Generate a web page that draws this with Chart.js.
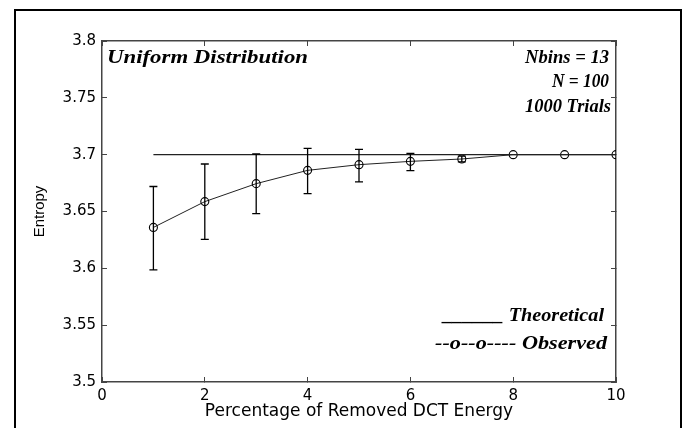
<!DOCTYPE html>
<html>
<head>
<meta charset="utf-8">
<title>Entropy vs removed DCT energy</title>
<script src="https://cdn.jsdelivr.net/npm/chart.js@4.4.0/dist/chart.umd.min.js"></script>
<style>
  html, body { margin: 0; padding: 0; background: #fff; }
  #wrap { position: relative; width: 686px; height: 428px; overflow: hidden; }
  #frame { position: absolute; left: 14px; top: 9px; width: 668px; height: 460px; border: 2px solid #000; box-sizing: border-box; }
  #chart { position: absolute; left: 0; top: 0; }
</style>
</head>
<body>
<div id="wrap">
  <div id="frame"></div>
  <canvas id="chart" width="686" height="428"></canvas>
</div>
<script>
// percentage of removed DCT energy
const pct = [1, 2, 3, 4, 5, 6, 7, 8, 9, 10];
// entropy of the uniform distribution, Nbins = 13
const theoretical = [3.7, 3.7, 3.7, 3.7, 3.7, 3.7, 3.7, 3.7, 3.7, 3.7];
// mean entropy over 1000 trials, with error-bar limits
const observed = [3.636, 3.6587, 3.6745, 3.6862, 3.6912, 3.6941, 3.6962, 3.7, 3.7, 3.7];
const errLow   = [3.5986, 3.6255, 3.6481, 3.6657, 3.676, 3.6859, 3.6937, 3.7, 3.7, 3.7];
const errHigh  = [3.672, 3.6918, 3.7006, 3.7055, 3.7047, 3.7011, 3.6988, 3.7, 3.7, 3.7];

const xTicks = [0, 2, 4, 6, 8, 10];
const yTicks = [3.5, 3.55, 3.6, 3.65, 3.7, 3.75, 3.8];

const SANS = "'DejaVu Sans', Verdana, sans-serif";
const SERIF = "'Liberation Serif', 'Times New Roman', serif";
const AXIS_COLOR = '#444';

// error bars with short caps
const errorBars = {
  id: 'errorBars',
  afterDatasetsDraw(chart) {
    const { ctx, scales: { x, y } } = chart;
    ctx.save();
    ctx.strokeStyle = '#000';
    ctx.lineWidth = 1.3;
    pct.forEach((p, i) => {
      if (errHigh[i] - errLow[i] < 1e-6) return;
      const px = x.getPixelForValue(p);
      const yl = y.getPixelForValue(errLow[i]);
      const yh = y.getPixelForValue(errHigh[i]);
      ctx.beginPath();
      ctx.moveTo(px, yl); ctx.lineTo(px, yh);
      ctx.moveTo(px - 4, yl); ctx.lineTo(px + 4, yl);
      ctx.moveTo(px - 4, yh); ctx.lineTo(px + 4, yh);
      ctx.stroke();
    });
    ctx.restore();
  }
};

// draw a string squeezed/stretched to a given width
function wideText(ctx, str, x, y, align, width) {
  const k = width / ctx.measureText(str).width;
  ctx.save();
  ctx.translate(x, y);
  ctx.scale(k, 1);
  ctx.textAlign = align;
  ctx.fillText(str, 0, 0);
  ctx.restore();
}

// annotations inside the axes
const notes = {
  id: 'notes',
  afterDraw(chart) {
    const { ctx, chartArea: a } = chart;
    ctx.save();
    ctx.fillStyle = '#000';
    ctx.textBaseline = 'middle';
    ctx.font = `bold italic 18px ${SERIF}`;
    wideText(ctx, 'Uniform Distribution', a.left + 5, a.top + 17, 'left', 201);
    wideText(ctx, 'Nbins = 13', a.right - 7, a.top + 17, 'right', 84);
    wideText(ctx, 'N = 100', a.right - 7, a.top + 41, 'right', 57);
    wideText(ctx, '1000 Trials', a.right - 5, a.top + 66, 'right', 86);
    wideText(ctx, '______ Theoretical', a.right - 12, a.top + 275, 'right', 161);
    wideText(ctx, '--o--o---- Observed', a.right - 9, a.top + 303, 'right', 172);
    ctx.restore();
  }
};

const tickFont = { family: SANS, size: 15 };
const frameGrid = { drawOnChartArea: false, tickLength: -5, color: AXIS_COLOR, lineWidth: 1 };
const frameBorder = { color: AXIS_COLOR, width: 1.5 };

new Chart(document.getElementById('chart'), {
  type: 'line',
  data: {
    datasets: [
      {
        label: 'Theoretical',
        data: pct.map((p, i) => ({ x: p, y: theoretical[i] })),
        borderColor: '#222',
        borderWidth: 1.3,
        pointRadius: 0
      },
      {
        label: 'Observed',
        data: pct.map((p, i) => ({ x: p, y: observed[i] })),
        borderColor: '#222',
        borderWidth: 1,
        pointRadius: 4,
        pointBorderColor: '#000',
        pointBackgroundColor: 'rgba(0,0,0,0)',
        pointBorderWidth: 1.1
      }
    ]
  },
  options: {
    responsive: false,
    animation: false,
    layout: { padding: { left: 20, right: 70, top: 41, bottom: 0 } },
    plugins: { legend: { display: false }, tooltip: { enabled: false } },
    scales: {
      x: {
        type: 'linear', position: 'bottom', min: 0, max: 10,
        afterBuildTicks: s => { s.ticks = xTicks.map(v => ({ value: v })); },
        ticks: { font: tickFont, color: '#000', padding: 10, maxRotation: 0 },
        grid: frameGrid,
        border: frameBorder,
        title: { display: true, text: 'Percentage of Removed DCT Energy', font: { family: SANS, size: 17 }, color: '#000', padding: { top: 0, bottom: 6 } },
        afterFit: s => { s.height = 46; }
      },
      xTop: {
        type: 'linear', position: 'top', min: 0, max: 10,
        afterBuildTicks: s => { s.ticks = xTicks.map(v => ({ value: v })); },
        ticks: { display: false },
        grid: frameGrid,
        border: frameBorder,
        afterFit: s => { s.height = 0; }
      },
      y: {
        type: 'linear', position: 'left', min: 3.5, max: 3.8,
        afterBuildTicks: s => { s.ticks = yTicks.map(v => ({ value: v })); },
        ticks: { font: tickFont, color: '#000', padding: 11, callback: v => String(Number(v.toFixed(2))) },
        grid: frameGrid,
        border: frameBorder,
        title: { display: true, text: 'Entropy', font: { family: "'Liberation Sans', Arial, sans-serif", size: 15 }, color: '#000', padding: { top: 11, bottom: 0 } },
        afterFit: s => { s.width = 82; }
      },
      yRight: {
        type: 'linear', position: 'right', min: 3.5, max: 3.8,
        afterBuildTicks: s => { s.ticks = yTicks.map(v => ({ value: v })); },
        ticks: { display: false },
        grid: frameGrid,
        border: frameBorder,
        afterFit: s => { s.width = 0; }
      }
    }
  },
  plugins: [errorBars, notes]
});
</script>
</body>
</html>
